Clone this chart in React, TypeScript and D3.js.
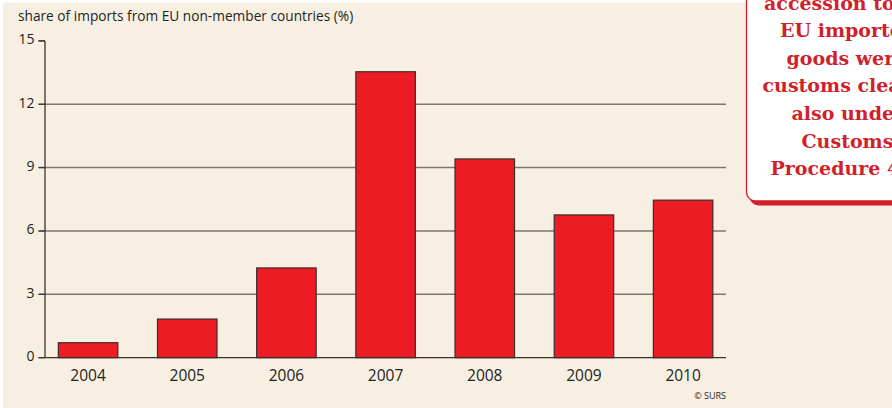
import React from "react";
import * as d3 from "d3";

const years = ["2004", "2005", "2006", "2007", "2008", "2009", "2010"];
const shares = [0.71, 1.83, 4.25, 13.54, 9.41, 6.76, 7.46];
const yTicks = [0, 3, 6, 9, 12, 15];
const titleText = "share of imports from EU non-member countries (%)";
const sourceText = "© SURS";
const noteLines = ["accession to", "EU importe", "goods wer", "customs clea", "also unde", "Customs", "Procedure 4"];
const noteX = [764, 780, 786.5, 762.5, 791.5, 801.5, 770.5];

const W = 892;
const H = 408;

export default function App() {
  const axisX = 45;
  const x = d3
    .scaleBand<string>()
    .domain(years)
    .range([38.5, 38.5 + 99.17 * 7])
    .paddingInner(0.4)
    .paddingOuter(0.2);
  const y = d3.scaleLinear().domain([0, 15]).range([357.7, 40.9]);
  const gridEnd = 726;
  const sans = "'Open Sans', 'Noto Sans', sans-serif";
  const serif = "'DejaVu Serif', serif";
  const red = "#d11f2b";

  return (
    <svg
      width={W}
      height={H}
      viewBox={`0 0 ${W} ${H}`}
      style={{ position: "absolute", left: 0, top: 0, display: "block" }}
    >
      <rect x={0} y={0} width={W} height={H} fill="#ffffff" />
      <rect x={3} y={2.5} width={W - 3} height={H - 2.5} fill="#f8efe3" />

      <text x={18} y={20.5} fontFamily={sans} fontSize={13.7} fill="#231f20">
        {titleText}
      </text>

      {/* gridlines and tick marks */}
      {yTicks.map((t) => (
        <g key={t}>
          <line
            x1={38.5}
            x2={t === 15 ? axisX : gridEnd}
            y1={y(t)}
            y2={y(t)}
            stroke={t === 0 || t === 15 ? "#3a3330" : "#7f776f"}
            strokeWidth={t === 0 || t === 15 ? 1.2 : 1.5}
          />
          <line x1={38.5} x2={axisX} y1={y(t)} y2={y(t)} stroke="#3a3330" strokeWidth={1.2} />
          <text
            x={34.5}
            y={y(t) + 3.5}
            textAnchor="end"
            fontFamily={sans}
            fontSize={14}
            fill="#231f20"
          >
            {t}
          </text>
        </g>
      ))}

      {/* y axis */}
      <line x1={axisX} x2={axisX} y1={y(15)} y2={y(0)} stroke="#3a3330" strokeWidth={1.3} />

      {/* bars */}
      {years.map((yr, i) => (
        <rect
          key={yr}
          x={x(yr)!}
          y={y(shares[i])}
          width={x.bandwidth()}
          height={y(0) - y(shares[i])}
          fill="#ed1c24"
          stroke="#3c2c2c"
          strokeWidth={1.2}
        />
      ))}

      {/* x labels */}
      {years.map((yr) => (
        <text
          key={yr}
          x={x(yr)! + x.bandwidth() / 2}
          y={380.5}
          textAnchor="middle"
          fontFamily={sans}
          fontSize={15.5}
          fill="#231f20"
        >
          {yr}
        </text>
      ))}

      <text x={726} y={399} textAnchor="end" fontFamily={sans} fontSize={9} fill="#231f20">
        {sourceText}
      </text>

      {/* note box */}
      <rect x={749.5} y={-20} width={220} height={225.5} rx={9} fill={red} />
      <rect x={746.5} y={-20} width={220} height={221} rx={9} fill="#ffffff" stroke={red} strokeWidth={1.3} />
      {noteLines.map((l, i) => (
        <text
          key={i}
          x={noteX[i]}
          y={9.5 + i * 27.6}
          fontFamily={serif}
          fontWeight="bold"
          fontSize={19}
          fill={red}
        >
          {l}
        </text>
      ))}
    </svg>
  );
}
